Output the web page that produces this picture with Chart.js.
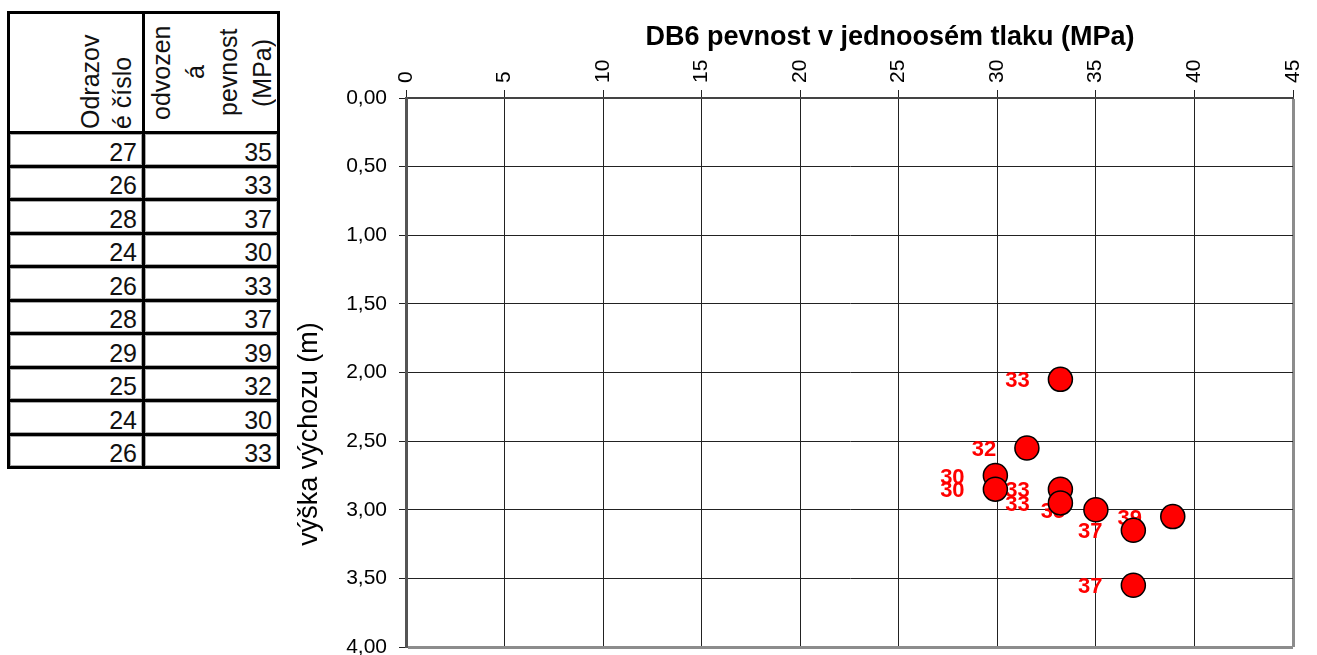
<!DOCTYPE html>
<html>
<head>
<meta charset="utf-8">
<script src="https://cdn.jsdelivr.net/npm/chart.js@4.4.1/dist/chart.umd.min.js"></script>
<style>
  html, body { margin: 0; padding: 0; background: #fff; overflow: hidden; width: 1317px; height: 655px; }
  body { position: relative; font-family: "Liberation Sans", Arial, sans-serif; }
  #tbl { position: absolute; left: 7px; top: 11px; border-collapse: collapse; table-layout: fixed; width: 270px; color: #111; }
  #tbl th, #tbl td { border: 3px solid #000; padding: 0; }
  #tbl th { height: 117px; position: relative; font-weight: normal; }
  #tbl td { height: 30.5px; font-size: 25px; line-height: 26px; text-align: right; padding-right: 5px; vertical-align: bottom;
            box-shadow: inset 1px 1px 0 #aaa, inset -1px -1px 0 #aaa; }
  .rot { position: absolute; writing-mode: vertical-rl; transform: rotate(180deg); font-size: 25px; line-height: 32px; white-space: nowrap; }
  .rot.c1 { right: 4px; top: 0; bottom: 2px; text-align: start; }
  .rot.c2 { left: 0; right: 0; top: 0; bottom: 0; text-align: center; line-height: 33.5px; }
  #chartBox { position: absolute; left: 290px; top: 0; }
</style>
</head>
<body>
<table id="tbl">
  <colgroup><col style="width:135px"><col style="width:135px"></colgroup>
  <thead>
    <tr>
      <th><div class="rot c1">Odrazov<br>é číslo</div></th>
      <th><div class="rot c2">odvozen<br>á<br>pevnost<br>(MPa)</div></th>
    </tr>
  </thead>
  <tbody id="rows"></tbody>
</table>
<div id="chartBox"><canvas id="chart" width="1027" height="680"></canvas></div>

<script>
// table data (rebound number, derived strength)
const reboundNumbers = [27, 26, 28, 24, 26, 28, 29, 25, 24, 26];
const tableStrength = [35, 33, 37, 30, 33, 37, 39, 32, 30, 33];

// plotted points: strength (MPa) vs. height of outcrop (m)
const plotStrength = [35.0, 33.2, 36.9, 29.9, 33.2, 36.9, 38.9, 31.5, 29.9, 33.2];
const heights = [3.00, 2.05, 3.15, 2.75, 2.85, 3.55, 3.05, 2.55, 2.85, 2.95];

const xTicks = [0, 5, 10, 15, 20, 25, 30, 35, 40, 45];
const yTicks = [0, 0.5, 1, 1.5, 2, 2.5, 3, 3.5, 4];

const xTitle = "DB6 pevnost v jednoosém tlaku (MPa)";
const yTitle = "výška výchozu (m)";

//------------------------------------------

// fill the table
const tbody = document.getElementById("rows");
reboundNumbers.forEach((r, i) => {
  const tr = document.createElement("tr");
  tr.innerHTML = "<td>" + r + "</td><td>" + tableStrength[i] + "</td>";
  tbody.appendChild(tr);
});

//------------------------------------------

const FONT = '"Liberation Sans", Arial, sans-serif';

// value labels next to the points (drawn under the markers)
const pointLabels = {
  id: 'pointLabels',
  beforeDatasetsDraw(chart, args, opts) {
    const {ctx} = chart;
    const meta = chart.getDatasetMeta(0);
    ctx.save();
    ctx.font = 'bold 22px ' + FONT;
    ctx.fillStyle = '#ff0000';
    ctx.textAlign = 'center';
    ctx.textBaseline = 'middle';
    meta.data.forEach((pt, i) => {
      ctx.fillText(String(tableStrength[i]), pt.x + opts.dx, pt.y + opts.dy);
    });
    ctx.restore();
  }
};

// axis titles, placed like in the original sheet
const axisTitles = {
  id: 'axisTitles',
  afterDraw(chart, args, opts) {
    const {ctx} = chart;
    ctx.save();
    ctx.fillStyle = '#000';
    ctx.textAlign = 'center';
    ctx.textBaseline = 'alphabetic';
    ctx.font = 'bold 27px ' + FONT;
    ctx.fillText(xTitle, opts.xCenter, opts.xBaseline);
    ctx.translate(opts.yBaseline, opts.yCenter);
    ctx.rotate(-Math.PI / 2);
    ctx.font = '27px ' + FONT;
    ctx.fillText(yTitle, 0, 0);
    ctx.restore();
  }
};

const data = {
  datasets: [{
    label: "pevnost",
    data: plotStrength.map((x, i) => ({x: x, y: heights[i]})),
    backgroundColor: '#ff0000',
    borderColor: '#000',
    borderWidth: 1.5,
    pointRadius: 12,
    pointHoverRadius: 12
  }]
};

const config = {
  type: 'scatter',
  data: data,
  options: {
    responsive: false,
    animation: false,
    layout: {padding: {left: 0, right: 24, top: 0, bottom: 33}},
    plugins: {
      legend: {display: false},
      tooltip: {enabled: false},
      pointLabels: {dx: -43, dy: 2},
      axisTitles: {xCenter: 600, xBaseline: 45, yCenter: 434, yBaseline: 27}
    },
    scales: {
      x: {
        type: 'linear',
        position: 'top',
        min: 0, max: 45,
        afterBuildTicks: (s) => { s.ticks = xTicks.map(v => ({value: v})); },
        afterFit: (s) => { s.height = 98; },
        ticks: {minRotation: 90, maxRotation: 90, autoSkip: false, padding: 7, labelOffset: 25,
                color: '#000', font: {family: FONT, size: 21}},
        grid: {
          color: (c) => c.tick && c.tick.value === 45 ? '#8c8c8c' : '#222',
          lineWidth: (c) => c.tick && c.tick.value === 45 ? 3 : 1,
          tickColor: '#222', tickWidth: 1, tickLength: 8
        },
        border: {color: '#444', width: 2}
      },
      y: {
        type: 'linear',
        reverse: true,
        min: 0, max: 4,
        afterBuildTicks: (s) => { s.ticks = yTicks.map(v => ({value: v})); },
        afterFit: (s) => { s.width = 116; },
        ticks: {padding: 12, color: '#000', font: {family: FONT, size: 21},
                callback: (v) => v.toFixed(2).replace('.', ',')},
        grid: {
          color: (c) => c.tick && c.tick.value === 4 ? '#8c8c8c' : '#222',
          lineWidth: (c) => c.tick && c.tick.value === 4 ? 3 : 1,
          tickColor: '#222', tickWidth: 1, tickLength: 7
        },
        border: {color: '#555', width: 3}
      }
    }
  },
  plugins: [pointLabels, axisTitles]
};

//------------------------------------------

const chart = new Chart(document.getElementById("chart"), config);
</script>
</body>
</html>
